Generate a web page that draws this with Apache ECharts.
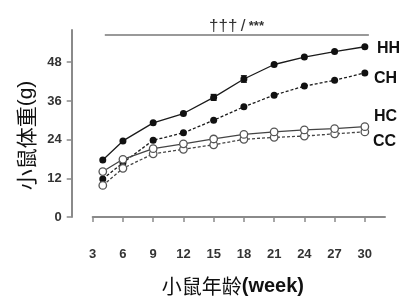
<!DOCTYPE html>
<html><head><meta charset="utf-8">
<script src="https://cdn.jsdelivr.net/npm/echarts@6/dist/echarts.min.js"></script>
<style>html,body{margin:0;padding:0;background:#fff}#c{width:412px;height:302px}</style>
</head><body><div id="c"></div>
<script>
const weeks = [4, 6, 9, 12, 15, 18, 21, 24, 27, 30];
const HH = [17.7, 23.6, 29.2, 32.1, 37.1, 42.8, 47.3, 49.6, 51.3, 52.8];
const CH = [11.8, 16.8, 23.8, 26.1, 30.0, 34.2, 37.8, 40.6, 42.4, 44.7];
const HC = [14.1, 17.9, 21.2, 22.7, 24.2, 25.6, 26.4, 27.0, 27.4, 28.0];
const CC = [9.8, 15.1, 19.6, 21.0, 22.4, 24.1, 24.7, 25.1, 25.8, 26.4];
const HHerr = [0, 0, 0, 0, 0.9, 1.0, 0, 0, 0, 0];
const xTicks = [3, 6, 9, 12, 15, 18, 21, 24, 27, 30];
const yTicks = [0, 12, 24, 36, 48];
const sigSpan = [4.2, 30.4];
const sigLevel = 56.5;
const groupNames = ['HH', 'CH', 'HC', 'CC'];

const font = '"Liberation Sans", Arial, "Noto Sans CJK SC", sans-serif';
const cjk = '"Noto Sans CJK SC", sans-serif';
const chart = echarts.init(document.getElementById('c'), null, {renderer: 'canvas'});
const pair = arr => weeks.map((w, i) => [w, arr[i]]);

function lineSeries(name, data, dashed, filled, z) {
  return {
    name, type: 'line', data: pair(data), z,
    symbol: 'circle', symbolSize: filled ? 7 : 7.5,
    lineStyle: {color: filled ? '#1a1a1a' : '#444', width: 1.3, type: dashed ? [3, 2] : 'solid'},
    itemStyle: filled ? {color: '#111', borderWidth: 0} : {color: '#fff', borderColor: '#555', borderWidth: 1.3},
    emphasis: {disabled: true}, animation: false
  };
}

const option = {
  animation: false,
  grid: {left: 92.7, right: 27, top: 30, bottom: 85},
  xAxis: {
    type: 'value', min: 3, max: 32, offset: 21,
    axisLine: {show: true, lineStyle: {color: '#8a8a8a', width: 2}},
    axisTick: {show: true, length: 5, lineStyle: {color: '#8a8a8a', width: 1.5}, customValues: xTicks},
    axisLabel: {customValues: xTicks, margin: 10, color: '#333', fontSize: 13, fontWeight: 'bold', fontFamily: font},
    splitLine: {show: false},
    name: '{c|小鼠年龄}{w|(week)}', nameLocation: 'middle', nameGap: 38,
    nameTextStyle: {padding: [0, 12, 0, 0], rich: {
      c: {fontSize: 20, fontFamily: cjk, fontWeight: 'normal', color: '#111'},
      w: {fontSize: 20, fontFamily: font, fontWeight: 'bold', color: '#111'}
    }}
  },
  yAxis: {
    type: 'value', min: 0, max: 58, offset: 21,
    axisLine: {show: true, lineStyle: {color: '#8a8a8a', width: 2}},
    axisTick: {show: true, length: 5, lineStyle: {color: '#8a8a8a', width: 1.5}, customValues: yTicks},
    axisLabel: {customValues: yTicks, margin: 10, color: '#333', fontSize: 13, fontWeight: 'bold', fontFamily: font},
    splitLine: {show: false},
    name: '{c|小鼠体重}{w|(g)}', nameLocation: 'middle', nameGap: 34, nameRotate: 90,
    nameTextStyle: {padding: [0, 24, 0, 0], rich: {
      c: {fontSize: 21, fontFamily: cjk, fontWeight: 'normal', color: '#111'},
      w: {fontSize: 21, fontFamily: font, fontWeight: 'normal', color: '#111'}
    }}
  },
  series: [
    Object.assign(lineSeries(groupNames[1], CH, true, true, 2), {
      markLine: {
        symbol: 'none', silent: true, animation: false,
        label: {show: false},
        lineStyle: {color: '#777', width: 1.6, type: 'solid'},
        data: [[{coord: [sigSpan[0], sigLevel]}, {coord: [sigSpan[1], sigLevel]}]]
      }
    }),
    lineSeries(groupNames[0], HH, false, true, 3),
    {
      type: 'custom', z: 4, animation: false,
      data: weeks.map((w, i) => [w, HH[i], HHerr[i]]).filter(d => d[2] > 0),
      renderItem: (params, api) => {
        const x = api.value(0), y = api.value(1), e = api.value(2);
        const top = api.coord([x, y + e]), bot = api.coord([x, y - e]);
        const st = {stroke: '#111', lineWidth: 1.3};
        return {type: 'group', children: [
          {type: 'line', shape: {x1: top[0], y1: top[1], x2: bot[0], y2: bot[1]}, style: st},
          {type: 'line', shape: {x1: top[0] - 3, y1: top[1], x2: top[0] + 3, y2: top[1]}, style: st},
          {type: 'line', shape: {x1: bot[0] - 3, y1: bot[1], x2: bot[0] + 3, y2: bot[1]}, style: st}
        ]};
      }
    },
    lineSeries(groupNames[3], CC, true, false, 5),
    lineSeries(groupNames[2], HC, false, false, 6)
  ],
  graphic: [
    {type: 'text', x: 236.5, y: 26, style: {
      text: '{d|†††} {s|/} {a|***}', align: 'center', verticalAlign: 'middle',
      rich: {
        d: {font: '17px ' + font, fill: '#333'},
        s: {font: '17px ' + font, fill: '#333'},
        a: {font: 'bold 13px ' + font, fill: '#333'}
      }
    }},
    {type: 'text', left: 377, top: 41, style: {text: groupNames[0], font: 'bold 16px ' + font, fill: '#111'}},
    {type: 'text', left: 374, top: 71, style: {text: groupNames[1], font: 'bold 16px ' + font, fill: '#111'}},
    {type: 'text', left: 374, top: 109, style: {text: groupNames[2], font: 'bold 16px ' + font, fill: '#111'}},
    {type: 'text', left: 373, top: 134, style: {text: groupNames[3], font: 'bold 16px ' + font, fill: '#111'}}
  ]
};
chart.setOption(option);
</script></body></html>
